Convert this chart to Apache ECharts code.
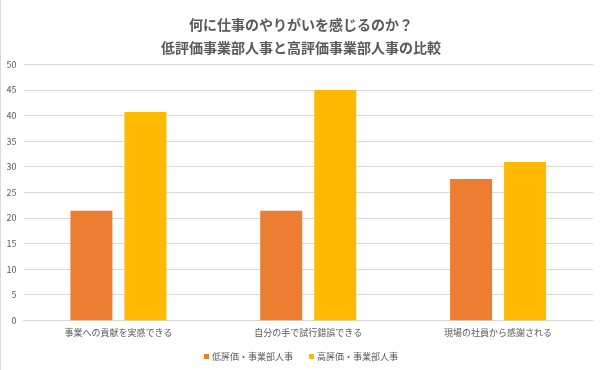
<!DOCTYPE html>
<html>
<head>
<meta charset="utf-8">
<script src="https://cdn.jsdelivr.net/npm/echarts@6/dist/echarts.min.js"></script>
<style>
html,body{margin:0;padding:0;background:#fff;}
#c{width:602px;height:370px;}
</style>
</head>
<body>
<div id="c"></div>
<script>
const categories = ['事業への貢献を実感できる', '自分の手で試行錯誤できる', '現場の社員から感謝される'];
const lowSeriesName = '低評価・事業部人事';
const highSeriesName = '高評価・事業部人事';
const lowValues = [21.4, 21.4, 27.6];
const highValues = [40.7, 45.0, 30.9];
const yTicks = { min: 0, max: 50, interval: 5 };

const font = '"Noto Sans CJK JP", "Noto Sans", sans-serif';
const chart = echarts.init(document.getElementById('c'));
chart.setOption({
  animation: false,
  backgroundColor: '#fff',
  textStyle: { fontFamily: font },
  title: {
    text: '何に仕事のやりがいを感じるのか？\n低評価事業部人事と高評価事業部人事の比較',
    left: 'center',
    top: 8,
    textStyle: { fontFamily: font, fontSize: 14, fontWeight: 'bold', color: '#595959', lineHeight: 23 }
  },
  graphic: [{
    type: 'line', shape: { x1: 0.5, y1: 0, x2: 0.5, y2: 370 },
    style: { stroke: '#D9D9D9', lineWidth: 1 }
  }],
  legend: {
    bottom: 4,
    left: 'center',
    itemWidth: 5,
    itemHeight: 5,
    itemGap: 16,
    icon: 'rect',
    textStyle: { fontFamily: font, fontSize: 9, color: '#595959', padding: [0, 0, 0, -2] },
    data: [lowSeriesName, highSeriesName]
  },
  grid: { left: 23.5, right: 9, top: 64.3, bottom: 49.7, containLabel: false },
  xAxis: {
    type: 'category',
    data: categories,
    axisTick: { show: false },
    axisLine: { lineStyle: { color: '#D9D9D9' } },
    axisLabel: { fontFamily: font, fontSize: 9, color: '#595959', margin: 8 }
  },
  yAxis: {
    type: 'value',
    min: yTicks.min, max: yTicks.max, interval: yTicks.interval,
    axisLine: { show: false },
    axisTick: { show: false },
    axisLabel: { fontFamily: font, fontSize: 9, color: '#595959', margin: 7 },
    splitLine: { lineStyle: { color: '#D9D9D9' } }
  },
  series: [
    { name: lowSeriesName, type: 'bar', data: lowValues, barWidth: 42, barGap: '28.6%', itemStyle: { color: '#ED7D31' } },
    { name: highSeriesName, type: 'bar', data: highValues, barWidth: 42, itemStyle: { color: '#FFB900' } }
  ]
});
</script>
</body>
</html>
